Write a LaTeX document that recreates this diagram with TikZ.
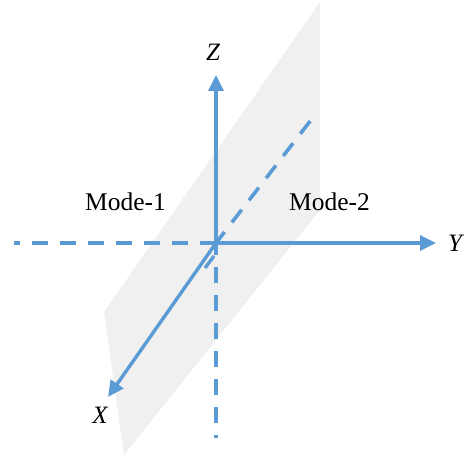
\documentclass[tikz,border=0pt]{standalone}
\usepackage{fontspec}
\setmainfont{Liberation Serif}
\usetikzlibrary{arrows.meta}
\definecolor{axblue}{HTML}{5B9BD5}
\definecolor{planegray}{HTML}{F0F0F0}
\begin{document}
\begin{tikzpicture}[x=1pt,y=-1pt,
  axis/.style={draw=axblue,line width=3.4pt,-{Triangle[length=16pt,width=15pt]}},
  dashaxis/.style={draw=axblue,line width=3.6pt,dash pattern=on 16pt off 12pt},
  lbl/.style={font=\fontsize{25}{28}\selectfont\itshape,inner sep=0pt},
  mode/.style={font=\fontsize{25.5}{28}\selectfont,inner sep=0pt}]
\useasboundingbox (0,0) rectangle (472,457);
% plane
\fill[planegray] (104,312) -- (320,2) -- (320,210) -- (124,455) -- cycle;
% coordinates
\coordinate (O) at (216,243);
\coordinate (L) at (14,243);
\coordinate (D) at (216,438);
\coordinate (UR) at (311,120);
\coordinate (Zt) at (216,75);
\coordinate (Yt) at (436,243);
\coordinate (Xt) at (108,397);
\coordinate (s1) at (214,256);
\coordinate (s2) at (205,268);
% dashed lines
\draw[dashaxis] (O) -- (L);
\draw[dashaxis,dash phase=4pt] (O) -- (D);
\draw[dashaxis,dash phase=2pt] (O) -- (UR);
\draw[draw=axblue,line width=3.4pt] (s1) -- (s2);
% axes
\draw[axis] (O) -- (Zt);
\draw[axis] (O) -- (Yt);
\draw[axis] (O) -- (Xt);
% labels
\node[lbl] (zl) at (213,52) {Z};
\node[lbl] (yl) at (455,243) {Y};
\node[lbl] (xl) at (100,415) {X};
\node[mode,anchor=base] (m1) at (125.5,211) {Mode-1};
\node[mode,anchor=base] (m2) at (329.5,211) {Mode-2};
\end{tikzpicture}
\end{document}
